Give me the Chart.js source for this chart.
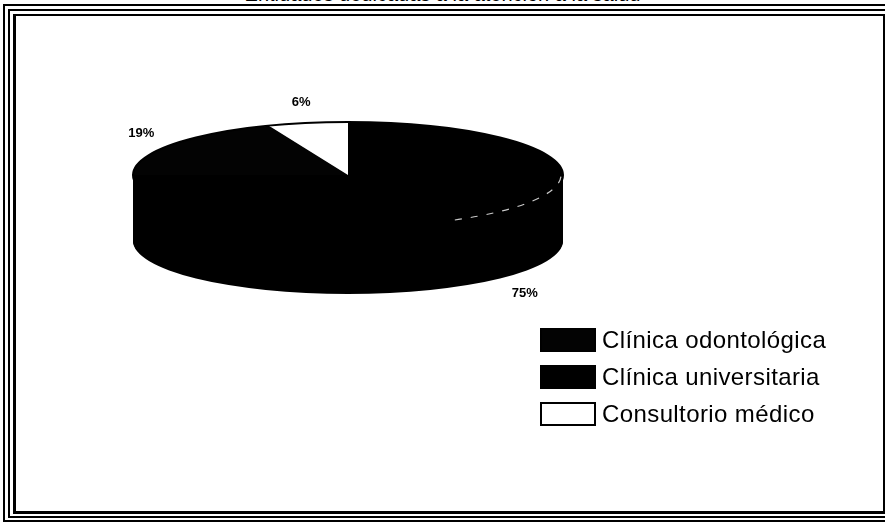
<!DOCTYPE html>
<html lang="es">
<head>
<meta charset="utf-8">
<title>Entidades dedicadas a la atención a la salud</title>
<script src="https://cdn.jsdelivr.net/npm/chart.js@4.4.0/dist/chart.umd.min.js"></script>
<style>
  html, body { margin: 0; padding: 0; background: #fff; overflow: hidden; }
  body { width: 885px; height: 522px; position: relative; font-family: "Liberation Sans", Arial, sans-serif; }
  .frame { position: absolute; border: 2px solid #000; box-sizing: border-box; }
  #f1 { left: 3px; top: 4px; width: 900px; height: 518px; }
  #f2 { left: 8px; top: 9px; width: 900px; height: 509px; }
  #f3 { left: 13px; top: 14px; width: 872px; height: 500px; border-width: 2px 2px 3px 3px; }
  #title { position: absolute; left: 0; top: -17px; width: 885px; text-align: center; font-size: 20px; line-height: 23px; }
  #pie { position: absolute; left: 0; top: 0; }
  #legend { position: absolute; left: 540px; top: 328px; }
  .row { display: flex; align-items: center; height: 24px; margin-bottom: 13px; font-size: 24px; letter-spacing: 0.4px; white-space: nowrap; }
  .box { width: 56px; height: 24px; border: 2px solid #000; box-sizing: border-box; margin-right: 6px; }
</style>
</head>
<body>
<div class="frame" id="f1"></div>
<div class="frame" id="f2"></div>
<div class="frame" id="f3"></div>
<div id="title">Entidades dedicadas a la atención a la salud</div>
<canvas id="pie" width="885" height="522"></canvas>
<div id="legend"></div>

<script>
// ========== Data ==========
const categories = ['Clínica universitaria', 'Clínica odontológica', 'Consultorio médico'];
const shares = [75, 19, 6];
const sliceColors = ['#000000', '#030303', '#ffffff'];
const legendOrder = ['Clínica odontológica', 'Clínica universitaria', 'Consultorio médico'];

// ========== 3D look ==========
const CX = 348, CY = 175;   // centre of the top face
const RX = 215, RY = 53;    // ellipse radii of the top face
const DEPTH = 66;           // thickness of the disc
const R = 150;              // radius chart.js works with before tilting

const tilt = {
  id: 'tilt',
  beforeDatasetsDraw(chart) {
    const arcs = chart.getDatasetMeta(0).data;
    const { x, y, outerRadius: r } = arcs[0];
    const ctx = chart.ctx;
    const sx = RX / r, sy = RY / r;

    // side of the disc: stack of shifted sectors
    for (let d = DEPTH; d > 0; d--) {
      ctx.save();
      ctx.translate(x, y + d);
      ctx.scale(sx, sy);
      arcs.forEach((a, i) => {
        ctx.beginPath();
        ctx.moveTo(0, 0);
        ctx.arc(0, 0, r, a.startAngle, a.endAngle);
        ctx.closePath();
        ctx.fillStyle = i === 2 ? '#000000' : sliceColors[i];
        ctx.fill();
      });
      ctx.restore();
    }

    // top face is drawn by chart.js inside this transform
    ctx.save();
    ctx.translate(x, y);
    ctx.scale(sx, sy);
    ctx.translate(-x, -y);
  },
  afterDatasetsDraw(chart) {
    const ctx = chart.ctx;
    ctx.restore();
    const arcs = chart.getDatasetMeta(0).data;
    const { x, y } = arcs[0];

    // rim of the top face
    ctx.save();
    ctx.lineWidth = 2;
    ctx.strokeStyle = '#000';
    ctx.beginPath();
    ctx.ellipse(x, y, RX, RY, 0, 0, Math.PI * 2);
    ctx.stroke();
    ctx.setLineDash([7, 9]);
    ctx.lineWidth = 1.2;
    ctx.strokeStyle = '#c8c8c8';
    ctx.beginPath();
    ctx.ellipse(x, y, RX - 2, RY - 1, 0, 0.03, 1.05);
    ctx.stroke();
    ctx.restore();

    // percentage labels
    ctx.save();
    ctx.font = 'bold 13px "Liberation Sans", Arial, sans-serif';
    ctx.fillStyle = '#000';
    ctx.textAlign = 'center';
    ctx.textBaseline = 'middle';
    arcs.forEach((a, i) => {
      const mid = (a.startAngle + a.endAngle) / 2;
      const lx = x + 250 * Math.cos(mid);
      const ly = y + 74 * Math.sin(mid) + (Math.sin(mid) > 0 ? DEPTH : 0);
      ctx.fillText(shares[i] + '%', lx, ly);
    });
    ctx.restore();
  }
};

new Chart(document.getElementById('pie'), {
  type: 'pie',
  data: {
    labels: categories,
    datasets: [{
      data: shares,
      backgroundColor: sliceColors,
      borderWidth: 0,
      clip: false
    }]
  },
  options: {
    responsive: false,
    animation: false,
    events: [],
    layout: {
      padding: { left: CX - R, top: CY - R, right: 885 - CX - R, bottom: 522 - CY - R }
    },
    plugins: {
      legend: { display: false },
      tooltip: { enabled: false }
    }
  },
  plugins: [tilt]
});

// ========== Legend ==========
const legend = document.getElementById('legend');
legendOrder.forEach(name => {
  const row = document.createElement('div');
  row.className = 'row';
  const box = document.createElement('span');
  box.className = 'box';
  box.style.background = sliceColors[categories.indexOf(name)];
  const label = document.createElement('span');
  label.textContent = name;
  row.appendChild(box);
  row.appendChild(label);
  legend.appendChild(row);
});
</script>
</body>
</html>
